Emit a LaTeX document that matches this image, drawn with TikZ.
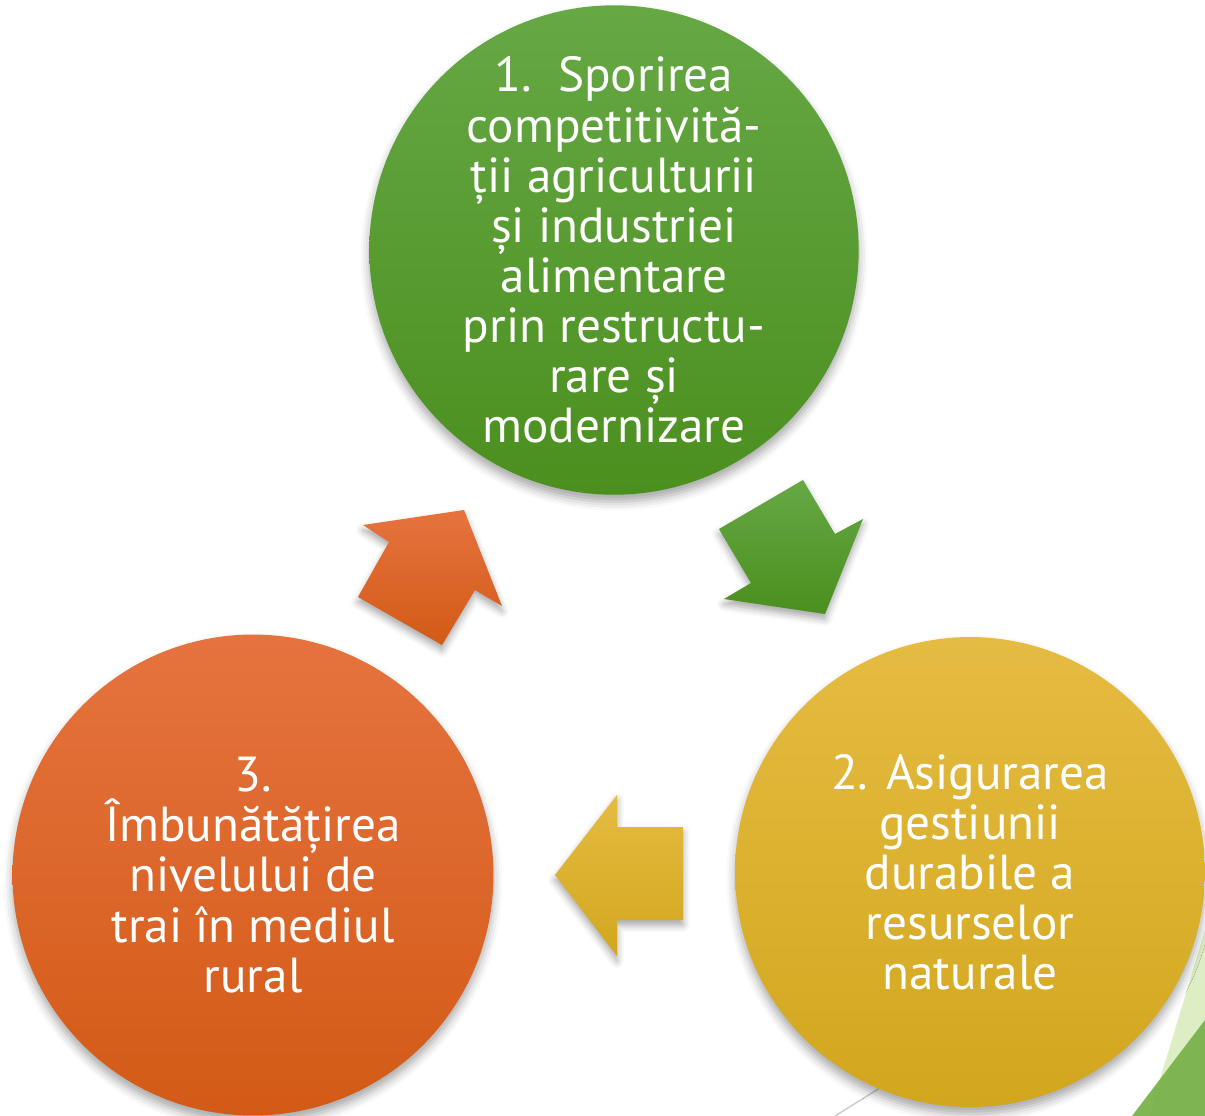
\documentclass[tikz,border=0pt]{standalone}
\usepackage{fontspec}
\setmainfont{PT Sans}
\usetikzlibrary{shadows.blur}

\definecolor{greenTop}{HTML}{66A844}
\definecolor{greenBot}{HTML}{4B8F1F}
\definecolor{yellowTop}{HTML}{E5BC42}
\definecolor{yellowBot}{HTML}{D2A61D}
\definecolor{orangeTop}{HTML}{E6733F}
\definecolor{orangeBot}{HTML}{D35A16}
\definecolor{leafLight}{HTML}{DDEDC4}
\definecolor{leafDark}{HTML}{7AB34A}

\begin{document}
\begin{tikzpicture}[x=0.02cm,y=-0.02cm,
    goal/.style={circle,inner sep=0pt,align=center,text=white,
      font=\fontsize{28}{28.5}\selectfont,
      blur shadow={shadow xshift=0pt,shadow yshift=-4pt,shadow blur radius=5pt,shadow opacity=35}},
    bigarrow/.style={blur shadow={shadow xshift=0pt,shadow yshift=-3pt,shadow blur radius=4pt,shadow opacity=35}}]
  \clip (0,0) rectangle (1205,1116);

  % slide decoration, lower right corner
  \draw[gray!40,thick] (835,1116) -- (1000,1013);
  \fill[leafLight] (1205,930) -- (1205,1116) -- (1149,1116) -- cycle;
  \fill[leafDark,opacity=.95] (1205,1020) -- (1205,1116) -- (1132,1116) -- cycle;

  % the three goals
  \node[goal,minimum size=9.62cm,top color=greenTop,bottom color=greenBot] (sporirea) at (614,250)
    {1.\ \ Sporirea\\competitivită-\\ții agriculturii\\și industriei\\alimentare\\prin restructu-\\rare și\\modernizare};
  \node[goal,minimum size=9.4cm,top color=yellowTop,bottom color=yellowBot] (gestiune) at (970,872)
    {2. Asigurarea\\gestiunii\\durabile a\\resurselor\\naturale};
  \node[goal,minimum size=9.62cm,top color=orangeTop,bottom color=orangeBot] (trai) at (253,875)
    {3.\\Îmbunătățirea\\nivelului de\\trai în mediul\\rural};

  % block arrows between them
  \path[bigarrow,top color=greenTop,bottom color=greenBot]
    (803,480) -- (835,534) -- (863,519) -- (825,614) -- (724,599) -- (751,583) -- (719,529) -- cycle;
  \path[bigarrow,top color=yellowTop,bottom color=yellowBot]
    (617,795) -- (617,827) -- (683,827) -- (683,920) -- (617,920) -- (617,956) -- (555,875) -- cycle;
  \path[bigarrow,top color=orangeTop,bottom color=orangeBot]
    (363,525) -- (464,510) -- (502,606) -- (475,590) -- (442,645) -- (358,597) -- (389,542) -- cycle;
\end{tikzpicture}
\end{document}
